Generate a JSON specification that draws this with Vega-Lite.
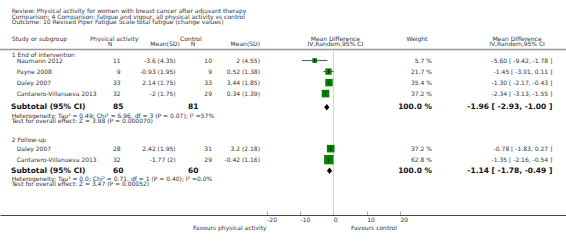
{
  "$schema": "https://vega.github.io/schema/vega-lite/v6.json",
  "width": 566,
  "height": 245,
  "autosize": {"type": "none"},
  "padding": 0,
  "background": "white",
  "config": {
    "view": {"stroke": null},
    "text": {"font": "DejaVu Sans", "fontSize": 6, "color": "#333", "baseline": "middle"},
    "axis": {"labelFont": "DejaVu Sans"}
  },
  "datasets": {
    "rows": [
      {"key": "review", "kind": "title", "label": "Review:  Physical activity for women with breast cancer after adjuvant therapy"},
      {"key": "comparison", "kind": "title", "label": "Comparison:  4 Comparison: fatigue and vigour, all physical activity vs control"},
      {"key": "outcome", "kind": "title", "label": "Outcome:  10 Revised Piper Fatigue Scale total fatigue (change values)"},
      {"key": "hdr1", "kind": "header", "label": "Study or subgroup", "pa_h": "Physical activity", "c_h": "Control", "md_h": "Mean Difference", "w_h": "Weight", "ci_h": "Mean Difference"},
      {"key": "hdr2", "kind": "header", "pa_n_h": "N", "pa_mean_h": "Mean(SD)", "c_n_h": "N", "c_mean": "Mean(SD)", "md_h": "IV,Random,95% CI", "ci_h": "IV,Random,95% CI"},
      {"key": "g1", "kind": "group", "label": "1 End of intervention"},
      {"key": "s1a", "kind": "study", "label": "Naumann 2012", "pa_n": "11", "pa_mean": "-3.6 (4.35)", "c_n": "10", "c_mean": "2 (4.55)", "weight": 5.7, "w": "5.7 %", "md": -5.6, "lo": -9.42, "hi": -1.78, "ci": "-5.60 [ -9.42, -1.78 ]"},
      {"key": "s1b", "kind": "study", "label": "Payne 2008", "pa_n": "9", "pa_mean": "-0.93 (1.95)", "c_n": "9", "c_mean": "0.52 (1.38)", "weight": 21.7, "w": "21.7 %", "md": -1.45, "lo": -3.01, "hi": 0.11, "ci": "-1.45 [ -3.01, 0.11 ]"},
      {"key": "s1c", "kind": "study", "label": "Daley 2007", "pa_n": "33", "pa_mean": "2.14 (1.75)", "c_n": "33", "c_mean": "3.44 (1.85)", "weight": 35.4, "w": "35.4 %", "md": -1.3, "lo": -2.17, "hi": -0.43, "ci": "-1.30 [ -2.17, -0.43 ]"},
      {"key": "s1d", "kind": "study", "label": "Cantarero-Villanueva 2013", "pa_n": "32", "pa_mean": "-2 (1.75)", "c_n": "29", "c_mean": "0.34 (1.39)", "weight": 37.2, "w": "37.2 %", "md": -2.34, "lo": -3.13, "hi": -1.55, "ci": "-2.34 [ -3.13, -1.55 ]"},
      {"key": "sub1", "kind": "subtotal", "label": "Subtotal (95% CI)", "pa_n": "85", "c_n": "81", "w": "100.0 %", "md": -1.96, "lo": -2.93, "hi": -1.0, "ci": "-1.96 [ -2.93, -1.00 ]"},
      {"key": "het1", "kind": "note", "label": "Heterogeneity: Tau² = 0.49; Chi² = 6.96, df = 3 (P = 0.07); I² =57%"},
      {"key": "test1", "kind": "note", "label": "Test for overall effect: Z = 3.98 (P = 0.000070)"},
      {"key": "g2", "kind": "group", "label": "2 Follow-up"},
      {"key": "s2a", "kind": "study", "label": "Daley 2007", "pa_n": "28", "pa_mean": "2.42 (1.95)", "c_n": "31", "c_mean": "3.2 (2.18)", "weight": 37.2, "w": "37.2 %", "md": -0.78, "lo": -1.83, "hi": 0.27, "ci": "-0.78 [ -1.83, 0.27 ]"},
      {"key": "s2b", "kind": "study", "label": "Cantarero-Villanueva 2013", "pa_n": "32", "pa_mean": "-1.77 (2)", "c_n": "29", "c_mean": "-0.42 (1.16)", "weight": 62.8, "w": "62.8 %", "md": -1.35, "lo": -2.16, "hi": -0.54, "ci": "-1.35 [ -2.16, -0.54 ]"},
      {"key": "sub2", "kind": "subtotal", "label": "Subtotal (95% CI)", "pa_n": "60", "c_n": "60", "w": "100.0 %", "md": -1.14, "lo": -1.78, "hi": -0.49, "ci": "-1.14 [ -1.78, -0.49 ]"},
      {"key": "het2", "kind": "note", "label": "Heterogeneity: Tau² = 0.0; Chi² = 0.71, df = 1 (P = 0.40); I² =0.0%"},
      {"key": "test2", "kind": "note", "label": "Test for overall effect: Z = 3.47 (P = 0.00052)"},
      {"key": "fav", "kind": "favours", "left": "Favours physical activity", "right": "Favours control"}
    ]
  },
  "data": {"name": "rows"},
  "encoding": {
    "y": {
      "field": "key", "type": "ordinal", "axis": null,
      "scale": {"type": "point", "padding": 0, "domain": ["f0","f1","f2","f3","review","f5","comparison","f7","outcome","f9","f10","f11","f12","f13","hdr1","f15","hdr2","f17","sep","f19","g1","f21","s1a","f23","f24","f25","s1b","f27","f28","f29","s1c","f31","f32","f33","s1d","f35","f36","f37","f38","sub1","f40","f41","het1","f43","test1","f45","f46","f47","f48","f49","f50","g2","f52","f53","s2a","f55","f56","f57","s2b","f59","f60","f61","sub2","f63","f64","het2","f66","test2","f68","f69","f70","f71","f72","f73","f74","f75","f76","f77","axisend","f79","f80","f81","f82","fav","f84","f85","f86","f87","f88","f89"]}
    }
  },
  "layer": [
    {
      "data": {"values": [{}]},
      "mark": {"type": "rule", "color": "#999", "strokeWidth": 1.5},
      "encoding": {"y": {"datum": "sep", "type": "ordinal"}}
    },
    {
      "data": {"values": [{}]},
      "mark": {"type": "rule", "color": "#ccc", "strokeWidth": 1},
      "encoding": {
        "x": {"datum": 0, "type": "quantitative", "scale": {"domain": [-100, 69.8], "nice": false, "zero": false}},
        "y": {"datum": "sep", "type": "ordinal"},
        "y2": {"datum": "axisend"}
      }
    },
    {
      "transform": [{"filter": "datum.kind == 'study'"}],
      "mark": {"type": "rule", "color": "#555", "strokeWidth": 1},
      "encoding": {
        "x": {"field": "lo", "type": "quantitative", "scale": {"domain": [-100, 69.8], "nice": false, "zero": false},
              "axis": {"values": [-20, -10, 0, 10, 20], "offset": -30, "title": null, "grid": false, "domainColor": "#444", "domainWidth": 1.2, "tickColor": "#aaa", "tickSize": -4, "labelFontSize": 6, "labelColor": "#333", "labelAlign": "left", "labelPadding": 5, "labelFlush": false, "labelOverlap": false, "labelExpr": "datum.value + ''"}},
        "x2": {"field": "hi"}
      }
    },
    {
      "transform": [{"filter": "datum.kind == 'study'"}],
      "mark": {"type": "square", "filled": true, "color": "#008000", "opacity": 1},
      "encoding": {
        "x": {"field": "md", "type": "quantitative"},
        "size": {"field": "weight", "type": "quantitative", "scale": {"domain": [0, 100], "range": [15, 130], "zero": false}, "legend": null}
      }
    },
    {
      "transform": [{"filter": "datum.kind == 'study'"}],
      "mark": {"type": "tick", "orient": "vertical", "size": 4, "thickness": 1, "color": "#000"},
      "encoding": {"x": {"field": "md", "type": "quantitative"}}
    },
    {
      "transform": [{"filter": "datum.kind == 'subtotal'"}],
      "mark": {"type": "point", "shape": "M-0.8,0L0,-1L0.8,0L0,1Z", "filled": true, "color": "#000", "opacity": 1, "size": 42},
      "encoding": {"x": {"field": "md", "type": "quantitative"}}
    },
    {
      "transform": [{"filter": "isValid(datum.label) && (datum.kind == 'title' || datum.kind == 'group' || datum.kind == 'note' || datum.kind == 'header')"}],
      "mark": {"type": "text", "align": "left"},
      "encoding": {"x": {"datum": -96.5, "type": "quantitative"}, "text": {"field": "label", "type": "nominal"}}
    },
    {
      "transform": [{"filter": "datum.kind == 'study'"}],
      "mark": {"type": "text", "align": "left"},
      "encoding": {"x": {"datum": -95.0, "type": "quantitative"}, "text": {"field": "label", "type": "nominal"}}
    },
    {
      "transform": [{"filter": "datum.kind == 'subtotal'"}],
      "mark": {"type": "text", "align": "left", "fontWeight": "bold", "fontSize": 7.5, "color": "#111"},
      "encoding": {"x": {"datum": -96.7, "type": "quantitative"}, "text": {"field": "label", "type": "nominal"}}
    },
    {
      "transform": [{"filter": "datum.kind == 'study'"}],
      "mark": {"type": "text", "align": "right"},
      "encoding": {"x": {"datum": -63.8, "type": "quantitative"}, "text": {"field": "pa_n", "type": "nominal"}}
    },
    {
      "transform": [{"filter": "datum.kind == 'subtotal'"}],
      "mark": {"type": "text", "align": "left", "fontWeight": "bold", "fontSize": 7.5, "color": "#111"},
      "encoding": {"x": {"datum": -66.1, "type": "quantitative"}, "text": {"field": "pa_n", "type": "nominal"}}
    },
    {
      "transform": [{"filter": "datum.kind == 'study'"}],
      "mark": {"type": "text", "align": "right"},
      "encoding": {"x": {"datum": -47.3, "type": "quantitative"}, "text": {"field": "pa_mean", "type": "nominal"}}
    },
    {
      "transform": [{"filter": "datum.kind == 'study'"}],
      "mark": {"type": "text", "align": "right"},
      "encoding": {"x": {"datum": -36.4, "type": "quantitative"}, "text": {"field": "c_n", "type": "nominal"}}
    },
    {
      "transform": [{"filter": "datum.kind == 'subtotal'"}],
      "mark": {"type": "text", "align": "left", "fontWeight": "bold", "fontSize": 7.5, "color": "#111"},
      "encoding": {"x": {"datum": -43.6, "type": "quantitative"}, "text": {"field": "c_n", "type": "nominal"}}
    },
    {
      "transform": [{"filter": "isValid(datum.c_mean)"}],
      "mark": {"type": "text", "align": "right"},
      "encoding": {"x": {"datum": -22.0, "type": "quantitative"}, "text": {"field": "c_mean", "type": "nominal"}}
    },
    {
      "transform": [{"filter": "datum.kind == 'study'"}],
      "mark": {"type": "text", "align": "right"},
      "encoding": {"x": {"datum": 29.6, "type": "quantitative"}, "text": {"field": "w", "type": "nominal"}}
    },
    {
      "transform": [{"filter": "datum.kind == 'subtotal'"}],
      "mark": {"type": "text", "align": "right", "fontWeight": "bold", "fontSize": 7.5, "color": "#111"},
      "encoding": {"x": {"datum": 29.6, "type": "quantitative"}, "text": {"field": "w", "type": "nominal"}}
    },
    {
      "transform": [{"filter": "datum.kind == 'study'"}],
      "mark": {"type": "text", "align": "right"},
      "encoding": {"x": {"datum": 65.7, "type": "quantitative"}, "text": {"field": "ci", "type": "nominal"}}
    },
    {
      "transform": [{"filter": "datum.kind == 'subtotal'"}],
      "mark": {"type": "text", "align": "right", "fontWeight": "bold", "fontSize": 7.5, "color": "#111"},
      "encoding": {"x": {"datum": 65.7, "type": "quantitative"}, "text": {"field": "ci", "type": "nominal"}}
    },
    {
      "transform": [{"filter": "isValid(datum.pa_h)"}],
      "mark": {"type": "text", "align": "left"},
      "encoding": {"x": {"datum": -73.0, "type": "quantitative"}, "text": {"field": "pa_h", "type": "nominal"}}
    },
    {
      "transform": [{"filter": "isValid(datum.pa_n_h)"}],
      "mark": {"type": "text", "align": "center"},
      "encoding": {"x": {"datum": -67.0, "type": "quantitative"}, "text": {"field": "pa_n_h", "type": "nominal"}}
    },
    {
      "transform": [{"filter": "isValid(datum.pa_mean_h)"}],
      "mark": {"type": "text", "align": "center"},
      "encoding": {"x": {"datum": -50.5, "type": "quantitative"}, "text": {"field": "pa_mean_h", "type": "nominal"}}
    },
    {
      "transform": [{"filter": "isValid(datum.c_h)"}],
      "mark": {"type": "text", "align": "left"},
      "encoding": {"x": {"datum": -46.0, "type": "quantitative"}, "text": {"field": "c_h", "type": "nominal"}}
    },
    {
      "transform": [{"filter": "isValid(datum.c_n_h)"}],
      "mark": {"type": "text", "align": "center"},
      "encoding": {"x": {"datum": -42.1, "type": "quantitative"}, "text": {"field": "c_n_h", "type": "nominal"}}
    },
    {
      "transform": [{"filter": "isValid(datum.md_h)"}],
      "mark": {"type": "text", "align": "center"},
      "encoding": {"x": {"datum": 0.6, "type": "quantitative"}, "text": {"field": "md_h", "type": "nominal"}}
    },
    {
      "transform": [{"filter": "isValid(datum.w_h)"}],
      "mark": {"type": "text", "align": "center"},
      "encoding": {"x": {"datum": 25.1, "type": "quantitative"}, "text": {"field": "w_h", "type": "nominal"}}
    },
    {
      "transform": [{"filter": "isValid(datum.ci_h)"}],
      "mark": {"type": "text", "align": "center"},
      "encoding": {"x": {"datum": 55.1, "type": "quantitative"}, "text": {"field": "ci_h", "type": "nominal"}}
    },
    {
      "transform": [{"filter": "datum.kind == 'favours'"}],
      "mark": {"type": "text", "align": "right"},
      "encoding": {"x": {"datum": -20.0, "type": "quantitative"}, "text": {"field": "left", "type": "nominal"}}
    },
    {
      "transform": [{"filter": "datum.kind == 'favours'"}],
      "mark": {"type": "text", "align": "center"},
      "encoding": {"x": {"datum": 12.2, "type": "quantitative"}, "text": {"field": "right", "type": "nominal"}}
    }
  ],
  "resolve": {"scale": {"size": "independent"}}
}
